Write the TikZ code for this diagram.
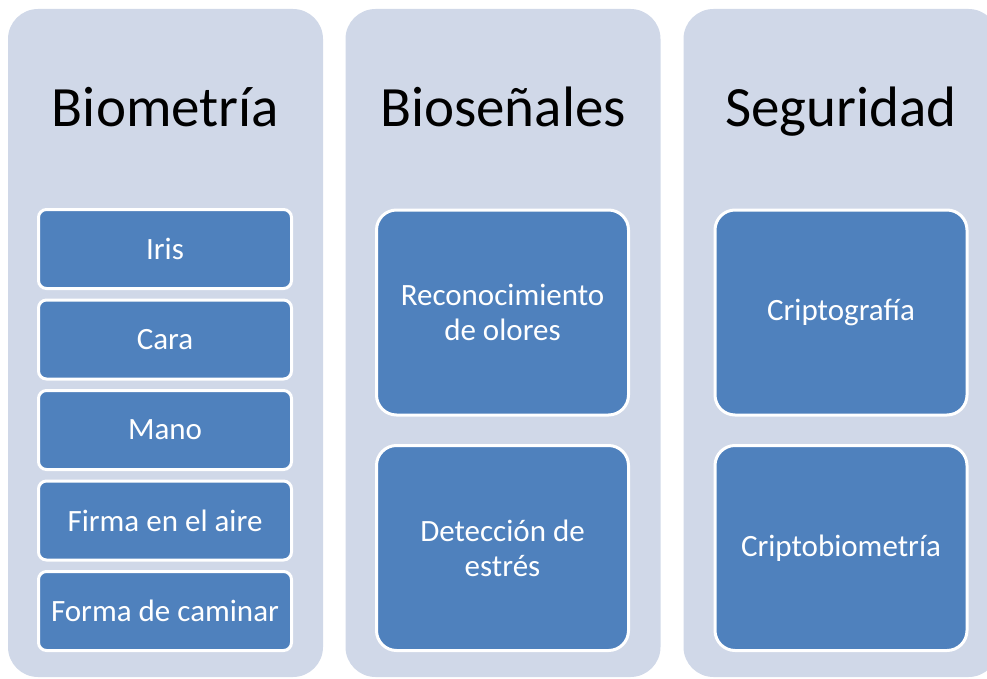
\documentclass[tikz,border=0pt]{standalone}
\usepackage{fontspec}
\setmainfont{Carlito}
\usepackage{tikz}
\usetikzlibrary{positioning}
\definecolor{PanelGray}{HTML}{D0D8E8}
\definecolor{ItemBlue}{HTML}{4F81BD}

\tikzset{
  panel/.style={fill=PanelGray,rounded corners=30pt,minimum width=315pt,minimum height=668pt,inner sep=0pt},
  paneltitle/.style={font=\fontsize{57}{62}\selectfont,text=black,inner sep=0pt,anchor=base},
  smallitem/.style={fill=ItemBlue,draw=white,line width=3pt,rounded corners=8pt,
    minimum width=253pt,minimum height=79pt,text=white,font=\fontsize{31}{35}\selectfont,inner sep=0pt},
  bigitem/.style={smallitem,rounded corners=20pt,minimum width=252pt,minimum height=205pt,align=center},
}

\begin{document}
\begin{tikzpicture}[x=1pt,y=-1pt]
        \useasboundingbox (0,0) rectangle (987,679);
        \clip (0,0) rectangle (987,679);
        % three panels
        \node[panel] (biopanel) at (165.5,343) {};
        \node[panel] (senpanel) at (503,343) {};
        \node[panel] (segpanel) at (841,343) {};
        % titles
        \node[paneltitle] (biotitle) at (165.5,127) {Biometría};
        \node[paneltitle] (sentitle) at (503,127) {Bioseñales};
        \node[paneltitle] (segtitle) at (841,127) {Seguridad};
        % biometria items
        \node[smallitem] (iris) at (165,249) {Iris};
        \node[smallitem] (cara) at (165,339.5) {Cara};
        \node[smallitem] (mano) at (165,430) {Mano};
        \node[smallitem] (firma) at (165,520.5) {Firma en el aire};
        \node[smallitem] (forma) at (165,611) {Forma de caminar};
        % biosenales items
        \node[bigitem] (olores) at (502.5,312.5) {Reconocimiento\\de olores};
        \node[bigitem] (estres) at (502.5,548) {Detección de\\estrés};
        % seguridad items
        \node[bigitem] (cripto) at (841,312.5) {Criptografía};
        \node[bigitem] (criptobio) at (841,548) {Criptobiometría};
      \end{tikzpicture}
\end{document}
